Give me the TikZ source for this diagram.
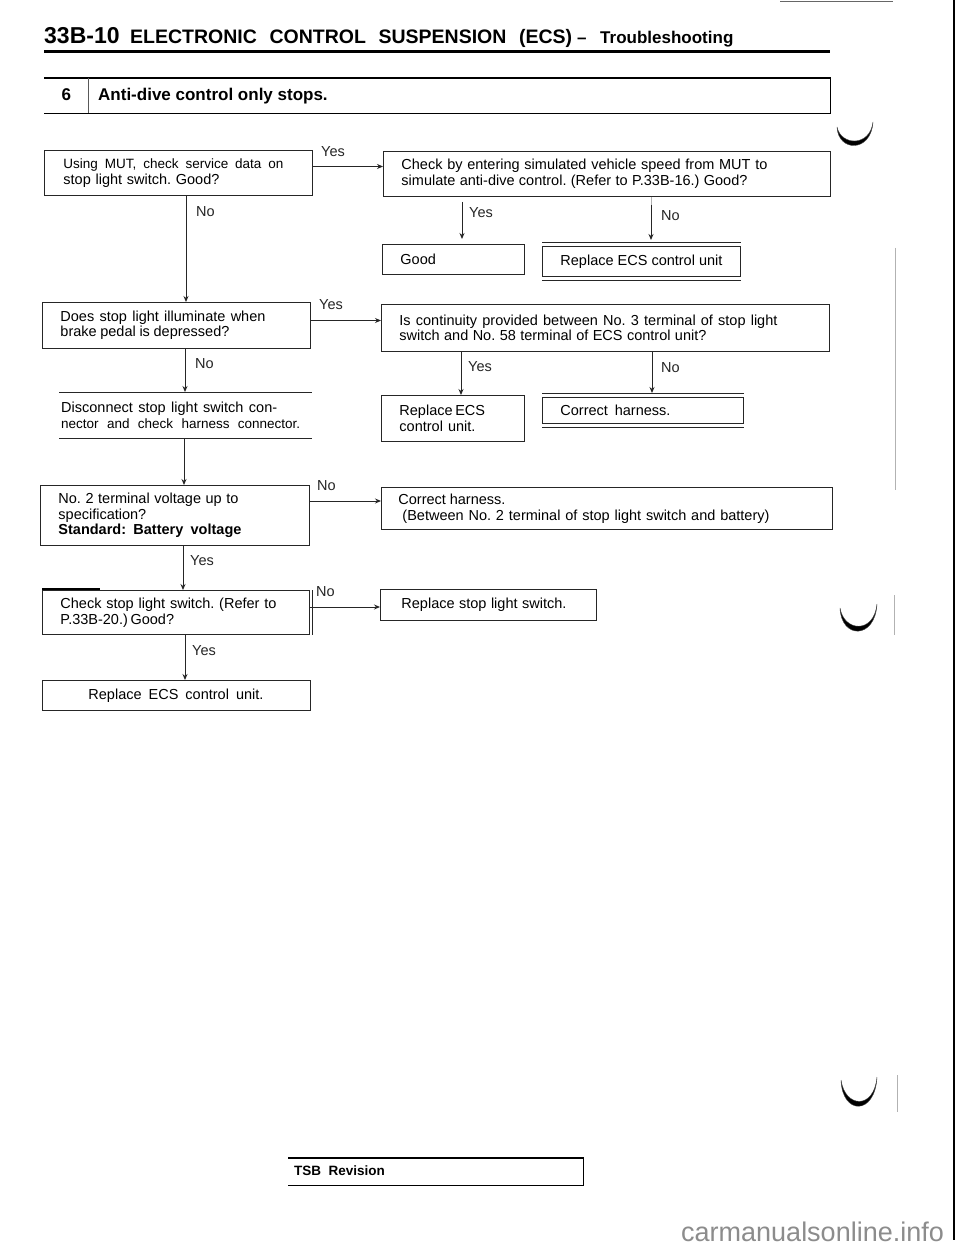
\documentclass[tikz,border=0pt]{standalone}
\usepackage{fontspec}
\setmainfont{Liberation Sans}
\usetikzlibrary{arrows.meta}
\newcommand{\fl}[2]{\makebox[#1pt][s]{#2}}
\tikzset{
  x=1pt,y=-1pt,
  ink/.style={draw=black!85,line width=0.9pt},
  bodyfont/.style={font=\fontsize{14.5}{15.6}\selectfont\frenchspacing},
  plain/.style n args={3}{anchor=north west,inner ysep=0pt,inner xsep=#2pt,
    minimum width=#1pt,minimum height=#3pt,text width=#1pt-2*#2pt,align=flush left,bodyfont},
  qbox/.style n args={3}{plain={#1}{#2}{#3},ink},
  lab/.style={anchor=base west,inner sep=0pt,font=\fontsize{14.5}{15}\selectfont,text=black!85},
  arr/.style={ink,-{Stealth[length=6pt,width=5pt]}},
  tit/.style={anchor=base west,inner sep=0pt,font=\bfseries},
  faint/.style={draw=black!30,line width=0.8pt},
  crescent/.style={draw=black!70,line width=0.4pt,fill=black},
}
\begin{document}
\begin{tikzpicture}
\useasboundingbox (0,0) rectangle (960,1246);
\fill[white] (0,0) rectangle (960,1246);
% page furniture
\draw[line width=2pt] (954,0) -- (954,1240);
\draw[draw=black!60,line width=0.9pt] (780,1) -- (893,1);
\draw[faint] (895,248) -- (895,490);
\draw[faint] (894,595) -- (894,635);
\draw[faint] (897,1075) -- (897,1112);
\path[crescent] (837,127) .. controls (838,152) and (871,153) .. (873,122) .. controls (870,147) and (841,146) .. cycle;
\path[crescent] (840,608) .. controls (841,639) and (875,640) .. (877,604) .. controls (874,634) and (844,632) .. cycle;
\path[crescent] (841,1080) .. controls (842,1115) and (875,1116) .. (877,1077) .. controls (874,1110) and (845,1108) .. cycle;
% title
\node[tit,font=\bfseries\fontsize{23}{23}\selectfont] (t1) at (44,44) {33B-10};
\node[tit,font=\bfseries\fontsize{19.5}{20}\selectfont] (t2) at (130,44) {\fl{442}{ELECTRONIC CONTROL SUSPENSION (ECS)}};
\node[tit,font=\bfseries\fontsize{17}{20}\selectfont] (t3) at (577,44) {--};
\node[tit,font=\bfseries\fontsize{17}{20}\selectfont] (t4) at (600,44) {Troubleshooting};
\coordinate (r1) at (44,52); \coordinate (r2) at (830,52);
\draw[line width=3pt] (r1) -- (r2);
% header
\node[anchor=north west,minimum width=786pt,minimum height=35.5pt,inner sep=0pt] (hdr) at (44,78) {};
\draw[line width=1.1pt] (hdr.north west) -- (hdr.north east) -- (hdr.south east) -- (hdr.south west);
\draw[ink,draw=black!65] (88,78) -- (88,113.5);
\node[tit,font=\bfseries\fontsize{17}{17}\selectfont] (hn) at (61.5,101) {6};
\node[tit,font=\bfseries\fontsize{17}{17}\selectfont] (ht) at (98,101) {Anti-dive control only stops.};
% boxes
\node[qbox={267.5}{19}{45}] (a) at (44,150) {\fl{220}{\fontsize{13.5}{15.6}\selectfont Using MUT, check service data on}\\\fl{156}{stop light switch. Good?}};
\node[qbox={447}{18}{45}] (b) at (383,151) {\fl{366}{Check by entering simulated vehicle speed from MUT to}\\\fl{346}{simulate anti-dive control. (Refer to P.33B-16.) Good?}};
\node[qbox={142}{18}{30}] (g) at (382,244) {Good};
\node[qbox={198}{18}{30}] (r) at (542,246) {\fl{162}{Replace ECS control unit}};
\draw[ink] ([yshift=4pt]r.north west) -- ([yshift=4pt]r.north east);
\draw[ink] ([yshift=-4pt]r.south west) -- ([yshift=-4pt]r.south east);
\node[qbox={268}{18}{46}] (c) at (42,302) {\fl{205}{Does stop light illuminate when}\\\fl{169}{brake pedal is depressed?}};
\node[qbox={448}{18}{47}] (d) at (381,304) {\fl{378}{Is continuity provided between No. 3 terminal of stop light}\\\fl{307}{switch and No. 58 terminal of ECS control unit?}};
\node[plain={253}{2}{46}] (e) at (59,392) {\fl{216}{Disconnect stop light switch con-}\\\fl{239}{\fontsize{13.5}{15.6}\selectfont nector and check harness connector.}};
\draw[ink] (e.north west) -- (e.north east);
\draw[ink] (e.south west) -- (e.south east);
\node[qbox={143}{18}{46}] (f) at (381,395) {\fl{84}{Replace ECS}\\\fl{76}{control unit.}};
\node[qbox={201}{18}{26}] (h) at (542,397) {\fl{110}{Correct harness.}};
\draw[ink] ([yshift=4pt]h.north west) -- ([yshift=4pt]h.north east);
\draw[ink] ([yshift=-4pt]h.south west) -- ([yshift=-4pt]h.south east);
\node[qbox={269}{18}{60}] (i) at (40,485) {\fl{180}{No. 2 terminal voltage up to}\\specification?\\\fl{183}{\textbf{Standard: Battery voltage}}};
\node[qbox={451}{17}{42}] (j) at (381,487) {\fl{107}{Correct harness.}\\\hspace*{4pt}\fl{367}{(Between No. 2 terminal of stop light switch and battery)}};
\node[qbox={267}{18}{44}] (k) at (42,590) {\fl{216}{Check stop light switch. (Refer to}\\\fl{113}{P.33B-20.) Good?}};
\draw[ink] ([xshift=3pt]k.north east) -- ([xshift=3pt]k.south east);
\draw[line width=1.4pt] ([yshift=1pt]k.north west) -- ([xshift=58pt,yshift=1pt]k.north west);
\node[qbox={216}{21}{31}] (l) at (380,589) {\fl{165}{Replace stop light switch.}};
\node[qbox={268}{46}{30}] (m) at (42,680) {\fl{175}{Replace ECS control unit.}};
% connectors
\draw[arr] (a.east |- 0,166.5) -- (b.west |- 0,166.5);
\draw[arr] (c.east |- 0,320.5) -- (d.west |- 0,320.5);
\draw[arr] (i.east |- 0,501) -- (j.west |- 0,501);
\draw[arr] (k.east |- 0,607) -- (l.west |- 0,607);
\draw[arr] (a.south -| 186,0) -- (c.north -| 186,0);
\draw[arr] (c.south -| 185,0) -- (e.north -| 185,0);
\draw[arr] (e.south -| 184,0) -- (i.north -| 184,0);
\draw[arr] (i.south -| 183,0) -- (k.north -| 183,0);
\draw[arr] (k.south -| 185,0) -- (m.north -| 185,0);
\draw[arr,shorten <=5pt,shorten >=5pt] (b.south -| 462,0) -- (g.north -| 462,0);
\draw[faint] (b.south -| 651,0) -- (651,205);
\draw[arr] (651,205) -- ([yshift=6pt]r.north -| 651,0);
\draw[arr] (d.south -| 461,0) -- (f.north -| 461,0);
\draw[arr] (d.south -| 652,0) -- ([yshift=4pt]h.north -| 652,0);
% labels
\node[lab] (y1) at (321,157) {Yes};
\node[lab] (n1) at (196,217) {No};
\node[lab] (y2) at (469,218) {Yes};
\node[lab] (n2) at (661,221) {No};
\node[lab] (y3) at (319,309) {Yes};
\node[lab] (n3) at (195,368) {No};
\node[lab] (y4) at (468,371) {Yes};
\node[lab] (n4) at (661,372) {No};
\node[lab] (n5) at (317,490) {No};
\node[lab] (y5) at (190,565) {Yes};
\node[lab] (n6) at (316,596) {No};
\node[lab] (y6) at (192,655) {Yes};
% footer
\node[anchor=north west,minimum width=295pt,minimum height=27pt,inner sep=0pt] (tsb) at (288,1158) {};
\draw[line width=1.1pt] (tsb.north west) -- (tsb.north east) -- (tsb.south east) -- (tsb.south west);
\node[tit,font=\bfseries\fontsize{13.5}{14}\selectfont] (tt) at (294,1175) {TSB\ \ Revision};
\node[anchor=base west,inner sep=0pt,text=black!45,font=\fontsize{27}{27}\selectfont] (wm) at (681,1241) {carmanualsonline.info};
\end{tikzpicture}
\end{document}
